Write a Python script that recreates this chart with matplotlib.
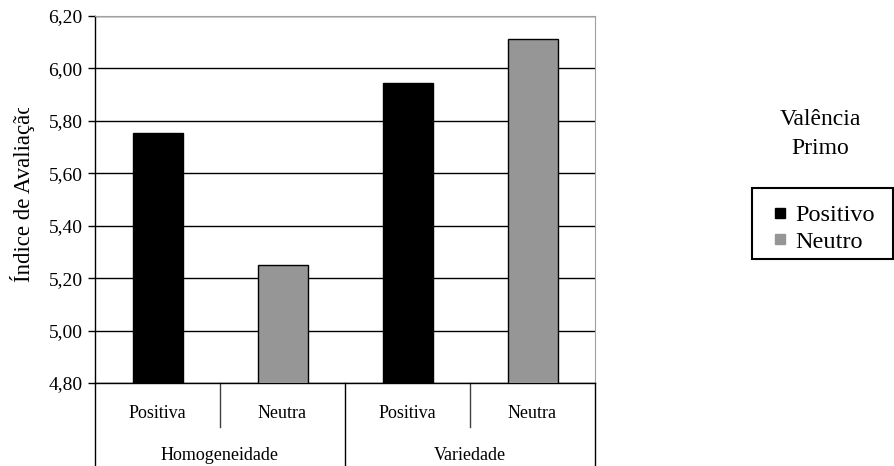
import numpy as np
import matplotlib.pyplot as plt
from matplotlib.lines import Line2D
from matplotlib.patches import Rectangle

plt.rcParams['font.family'] = ['Liberation Serif', 'DejaVu Serif']

# data
groups = ['Homogeneidade', 'Variedade']
conditions = ['Positiva', 'Neutra', 'Positiva', 'Neutra']
values = [5.755, 5.252, 5.945, 6.112]
series = ['Positivo', 'Neutro']
colors = ['#000000', '#969696']
bar_series = [0, 1, 0, 1]
yticks = [4.8, 5.0, 5.2, 5.4, 5.6, 5.8, 6.0, 6.2]

W, H = 894, 466
fig = plt.figure(figsize=(W / 100, H / 100), dpi=100)
ax = fig.add_axes([95 / W, 1 - 383 / H, 500 / W, 367 / H])

x = np.arange(len(values))
ax.bar(x, values, width=0.4, bottom=0,
       color=[colors[s] for s in bar_series], edgecolor='black', linewidth=1.0, zorder=3)
ax.set_xlim(-0.5, 3.5)
ax.set_ylim(4.8, 6.2)
ax.set_yticks(yticks)
ax.set_yticklabels([('%.2f' % v).replace('.', ',') for v in yticks], fontsize=14)
ax.yaxis.grid(True, color='black', linewidth=1.0, zorder=0)
ax.set_xticks([])
ax.tick_params(axis='y', length=5, width=1, color='black', pad=4)
ax.spines['top'].set_color('#a0a0a0')
ax.spines['right'].set_color('#a0a0a0')
ax.spines['left'].set_linewidth(1.0)
ax.spines['bottom'].set_linewidth(1.0)

# two-level category axis
tr = ax.get_xaxis_transform()
short_y = -(427 - 383) / 367
long_y = -(470 - 383) / 367
for sx in [0.5, 2.5]:
    ax.plot([sx, sx], [0, short_y], color='#404040', lw=1, transform=tr, clip_on=False)
for lx in [-0.5, 1.5, 3.5]:
    ax.plot([lx, lx], [0, long_y], color='black', lw=1, transform=tr, clip_on=False)
for xi, lab in zip(x, conditions):
    ax.text(xi, -(414 - 383) / 367, lab, transform=tr, ha='center', va='center', fontsize=13)
for gi, g in enumerate(groups):
    ax.text(2 * gi + 0.5, -(455 - 383) / 367, g, transform=tr, ha='center', va='center', fontsize=13)

# y label; its top is cut off in the original
fig.text(23 / W, 1 - 282 / H, 'Índice de Avaliação', rotation=90,
         ha='center', va='bottom', fontsize=16.5, zorder=3)
fig.patches.append(Rectangle((0, 1 - 108 / H), 40 / W, 108 / H, transform=fig.transFigure,
                             facecolor='white', edgecolor='none', zorder=5))

# legend title and entries
fig.text(820 / W, 1 - 134 / H, 'Valência\nPrimo', ha='center', va='center',
         fontsize=17, linespacing=1.55)
handles = [Line2D([], [], marker='s', linestyle='none', markersize=7,
                  markerfacecolor=c, markeredgecolor=c) for c in colors]
leg = fig.legend(handles, series, loc='upper left', bbox_to_anchor=(775 / W, 1 - 204 / H),
                 fontsize=17.5, frameon=False, borderpad=0, borderaxespad=0,
                 handlelength=0.45, handletextpad=0.4, labelspacing=0.2)
fig.patches.append(Rectangle((752 / W, 1 - 259 / H), 141 / W, 71 / H, transform=fig.transFigure,
                             facecolor='none', edgecolor='black', linewidth=1.5, zorder=5))

fig.savefig('out.png', dpi=100)
